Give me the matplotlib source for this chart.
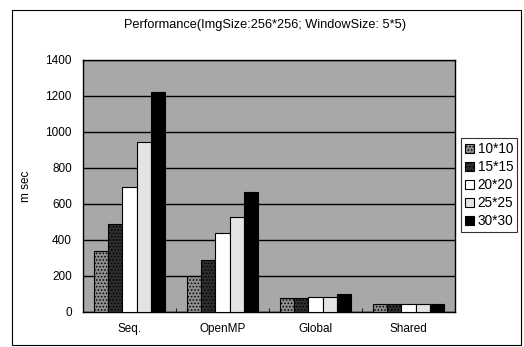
import numpy as np
import matplotlib
matplotlib.use('Agg')
import matplotlib.pyplot as plt
from matplotlib.patches import Rectangle

plt.rcParams['font.family'] = ['Liberation Sans', 'DejaVu Sans']
plt.rcParams['hatch.color'] = '#6a6a6a'
plt.rcParams['hatch.linewidth'] = 0.7

# values (m sec)
categories = ['Seq.', 'OpenMP', 'Global', 'Shared']
series_names = ['10*10', '15*15', '20*20', '25*25', '30*30']
values = {
    '10*10': [339, 202, 76, 43],
    '15*15': [489, 289, 80, 44],
    '20*20': [696, 439, 85, 45],
    '25*25': [944, 530, 85, 45],
    '30*30': [1220, 669, 100, 45],
}
y_ticks = [0, 200, 400, 600, 800, 1000, 1200, 1400]

colors = ['#8e8e8e', '#2e2e2e', '#ffffff', '#e4e4e4', '#000000']
hatches = ['.....', '.....', None, None, None]

fig = plt.figure(figsize=(5.24, 3.47), dpi=100)
ax = fig.add_axes([0.1584, 0.1009, 0.7099, 0.7262])
ax.set_facecolor('#a8a8a8')

x = np.arange(len(categories))
n = len(series_names)
bar_w = 1 / (n + 1.5)
for i, name in enumerate(series_names):
    offs = (i - (n - 1) / 2) * bar_w
    bars = ax.bar(x + offs, values[name], width=bar_w, color=colors[i],
                  edgecolor='black', linewidth=0.8, label=name, zorder=3)
    if hatches[i]:
        for b in bars:
            b.set_hatch(hatches[i])

ax.set_xlim(-0.5, len(categories) - 0.5)
ax.set_ylim(0, 1400)
ax.set_yticks(y_ticks)
ax.set_yticklabels([str(t) for t in y_ticks], fontsize=8.5)
ax.set_xticks(x)
ax.set_xticklabels(categories, fontsize=8.5)
ax.set_xticks(np.arange(len(categories) + 1) - 0.5, minor=True)
ax.tick_params(axis='x', which='major', length=0, pad=8)
ax.tick_params(axis='x', which='minor', length=3, direction='in')
ax.tick_params(axis='y', length=0, pad=8)
ax.grid(axis='y', color='black', linewidth=1.0, zorder=1)
ax.set_axisbelow(True)
for s in ax.spines.values():
    s.set_color('black')
    s.set_linewidth(1.0)

ax.set_ylabel('m sec', fontsize=8.5, labelpad=10)
fig.text(0.506, 0.928, 'Performance(ImgSize:256*256; WindowSize: 5*5)',
         ha='center', va='center', fontsize=9.2)

leg = fig.legend(loc='upper left', bbox_to_anchor=(0.879, 0.603), fontsize=9.8,
                 frameon=True, fancybox=False, borderpad=0.3, labelspacing=0.3,
                 handlelength=0.65, handleheight=0.65, handletextpad=0.3,
                 borderaxespad=0)
leg.get_frame().set_edgecolor('black')
leg.get_frame().set_linewidth(0.8)

# outer chart border
fig.patches.append(Rectangle((12 / 524, 0.005), 509 / 524, 1 - 10 / 347 - 0.005,
                             transform=fig.transFigure, fill=False,
                             edgecolor='black', linewidth=0.8))

fig.savefig('out.png', dpi=100)
